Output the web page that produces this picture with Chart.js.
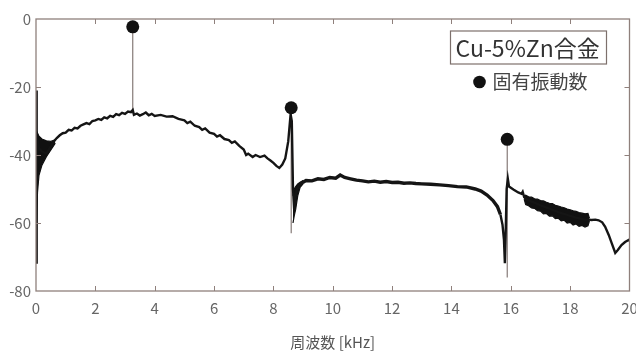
<!DOCTYPE html>
<html>
<head>
<meta charset="utf-8">
<script src="https://cdn.jsdelivr.net/npm/chart.js@4/dist/chart.umd.min.js"></script>
<style>
  html, body { margin: 0; padding: 0; background: #fff; }
  #wrap { width: 636px; height: 351px; position: relative; }
</style>
</head>
<body>
<div id="wrap"><canvas id="spectrumChart"></canvas></div>
<script>
// Spectrum trace (kHz, dB)
const freq = [0.00, 0.015, 0.03, 0.06, 0.1, 0.2, 0.35, 0.5, 0.6, 0.7, 0.8, 0.9, 1.0, 1.1, 1.2, 1.3, 1.4, 1.5,
  1.6, 1.7, 1.8, 1.9, 2.0, 2.1, 2.2, 2.3, 2.4, 2.5, 2.6, 2.7, 2.8, 2.9, 3.0, 3.1, 3.2, 3.26, 3.3, 3.4, 3.5,
  3.6, 3.7, 3.8, 3.9, 4.0, 4.2, 4.4, 4.6, 4.8, 5.0, 5.1, 5.2, 5.35, 5.5, 5.6, 5.7, 5.85, 6.0, 6.1, 6.2, 6.35,
  6.5, 6.6, 6.7, 6.85, 7.0, 7.08, 7.15, 7.3, 7.4, 7.55, 7.7, 7.8, 7.9, 8.0, 8.1, 8.2, 8.3, 8.4, 8.5, 8.58,
  8.62, 8.66, 8.7, 8.75, 8.8, 8.9, 9.0, 9.1, 9.3, 9.5, 9.7, 9.9, 10.1, 10.25, 10.4, 10.6, 10.8, 11.0, 11.2,
  11.4, 11.6, 11.8, 12.0, 12.2, 12.4, 12.6, 12.8, 13.0, 13.3, 13.6, 13.9, 14.2, 14.5, 14.8, 15.0, 15.2, 15.4,
  15.55, 15.65, 15.72, 15.77, 15.8, 15.83, 15.86, 15.9, 15.94, 16.1, 16.25, 16.36, 16.4, 16.45, 16.55, 16.8,
  17.0, 17.3, 17.6, 17.9, 18.2, 18.5, 18.62, 18.72, 18.85, 18.96, 19.08, 19.18, 19.3, 19.4, 19.52, 19.6, 19.73,
  19.85, 19.97, 20.0];
const amp = [-21, -72, -45, -36, -38, -39, -39.5, -37.5, -36.0, -35.0, -34.2, -33.6, -33.4, -32.6, -32.8, -32.0, -32.2, -31.4,
  -31.0, -30.6, -30.9, -30.0, -29.8, -29.4, -29.7, -28.9, -29.2, -28.5, -28.8, -28.0, -28.3, -27.6, -27.9, -27.2, -27.4, -26.8, -28.2, -27.8, -28.4,
  -28.0, -27.5, -28.3, -27.9, -28.5, -28.2, -28.7, -28.6, -29.4, -29.8, -30.6, -30.2, -31.4, -31.8, -32.6, -32.2, -33.4, -33.8, -34.6, -34.2, -35.3,
  -35.6, -36.4, -36.0, -37.3, -38.4, -40.0, -39.6, -40.6, -40.0, -40.6, -40.2, -41.0, -41.6, -42.3, -43.2, -43.8, -42.8, -41.0, -36.0, -28.0,
  -30, -50, -56, -52, -50, -48.6, -48, -47.5, -47.6, -47.0, -47.2, -46.6, -46.8, -45.9, -46.6, -47.0, -47.4, -47.6, -47.9,
  -47.7, -48.0, -47.8, -48.1, -48.0, -48.3, -48.2, -48.4, -48.5, -48.6, -48.8, -49.0, -49.3, -49.4, -50.0, -50.6, -51.8, -53.4,
  -55.2, -57.5, -60.5, -65, -71.8, -62, -50, -47, -49.3, -50.2, -51.0, -51.4, -50.8, -52.4, -53.2, -54.0,
  -54.8, -55.8, -56.8, -57.6, -58.4, -59.0, -59.0, -59.1, -59.0, -59.2, -59.8, -61.1, -63.5, -65.9, -68.8, -68.0, -66.5,
  -65.6, -65.0, -65.3];

// Noisy bands (upper / lower envelope)
const band1X = [0.02, 0.05, 0.1, 0.2, 0.35, 0.5, 0.65];
const band1Hi = [-33.0, -33.5, -34.5, -35.3, -35.8, -36.0, -35.5];
const band1Lo = [-60, -51, -46, -43, -40.5, -38.5, -36.5];

const band2X = [8.66, 8.7, 8.75, 8.82, 8.9, 9.0];
const band2Hi = [-52, -50, -49.3, -48.5, -48, -47.5];
const band2Lo = [-60, -58, -56, -52, -49.5, -48.5];

const band3X = [16.45, 16.5, 16.6, 16.7, 16.8, 16.9, 17.0, 17.1, 17.2, 17.3, 17.4, 17.5, 17.6, 17.7, 17.8,
  17.9, 18.0, 18.1, 18.2, 18.3, 18.4, 18.5, 18.6, 18.65];
const band3Hi = [-52.0, -51.8, -52.3, -52.4, -52.9, -53.0, -53.4, -53.5, -53.9, -54.2, -54.3, -54.8, -55.0, -55.3, -55.5,
  -55.9, -56.1, -56.4, -56.6, -56.9, -57.1, -57.3, -57.2, -58.6];
const band3Lo = [-53.0, -54.6, -54.9, -55.6, -55.7, -56.4, -56.5, -57.3, -57.2, -58.0, -57.9, -58.7, -58.6, -59.4, -59.2,
  -60.0, -59.8, -60.6, -60.3, -61.0, -60.7, -61.2, -60.8, -59.4];

// Natural frequencies (固有振動数) and the thin spike under each
const peakFreq = [3.26, 8.6, 15.88];
const peakAmp = [-2.3, -26.1, -35.4];
const spikeBottom = [-27.5, -63, -76];

const toPts = (xs, ys) => xs.map((x, i) => ({ x: x, y: ys[i] }));

const spikePts = [];
peakFreq.forEach((f, i) => {
    spikePts.push({ x: f, y: spikeBottom[i] }, { x: f, y: peakAmp[i] }, { x: f, y: null });
});

const AXIS = '#8f807c';
Chart.defaults.font.family = "'Noto Sans CJK JP', 'Noto Sans', sans-serif";

function bandSets(xs, hi, lo) {
    return [
        { data: toPts(xs, hi), borderColor: '#111', borderWidth: 1.2, pointRadius: 0, fill: '+1', backgroundColor: '#111', order: 2 },
        { data: toPts(xs, lo), borderColor: '#111', borderWidth: 1.2, pointRadius: 0, fill: false, order: 2 }
    ];
}

// frame, inward ticks and the legend box
const framePlugin = {
    id: 'frame',
    afterDraw(chart) {
        const ctx = chart.ctx;
        const a = chart.chartArea;
        const xs = chart.scales.x, ys = chart.scales.y;
        ctx.save();
        ctx.strokeStyle = AXIS;
        ctx.lineWidth = 1.3;
        ctx.strokeRect(a.left, a.top, a.right - a.left, a.bottom - a.top);
        ctx.lineWidth = 1;
        ctx.beginPath();
        for (let v = 2; v < 20; v += 2) {
            const px = Math.round(xs.getPixelForValue(v)) + 0.5;
            ctx.moveTo(px, a.bottom); ctx.lineTo(px, a.bottom - 5);
            ctx.moveTo(px, a.top); ctx.lineTo(px, a.top + 5);
        }
        for (let v = -60; v < 0; v += 20) {
            const py = Math.round(ys.getPixelForValue(v)) + 0.5;
            ctx.moveTo(a.left, py); ctx.lineTo(a.left + 5, py);
            ctx.moveTo(a.right, py); ctx.lineTo(a.right - 5, py);
        }
        ctx.stroke();

        // legend
        const bx = a.right - 179, by = a.top + 12;
        ctx.fillStyle = '#fff';
        ctx.fillRect(bx, by, 156, 33);
        ctx.strokeStyle = '#7d706c';
        ctx.lineWidth = 1.2;
        ctx.strokeRect(bx, by, 156, 33);
        ctx.fillStyle = '#333';
        ctx.font = "23px 'Noto Sans CJK JP'";
        ctx.textBaseline = 'middle';
        ctx.textAlign = 'left';
        ctx.fillText('Cu-5%Zn合金', bx + 5, by + 17);
        ctx.fillStyle = '#111';
        ctx.beginPath();
        ctx.arc(bx + 29, by + 51, 6.3, 0, Math.PI * 2);
        ctx.fill();
        ctx.fillStyle = '#444';
        ctx.font = "19px 'Noto Sans CJK JP'";
        ctx.fillText('固有振動数', bx + 42, by + 51);
        ctx.restore();
    }
};

const ctx = document.getElementById('spectrumChart').getContext('2d');
new Chart(ctx, {
    type: 'line',
    data: {
        datasets: [
            { data: toPts(peakFreq, peakAmp), showLine: false, pointRadius: 6.5, pointBackgroundColor: '#111', pointBorderWidth: 0, order: 0 },
            {
                data: toPts(freq, amp), borderColor: '#151515', borderWidth: 2.4, pointRadius: 0, tension: 0, order: 1,
                segment: { borderWidth: c => (c.p0.parsed.x > 8.8 && c.p0.parsed.x < 15.6) ? 3.4 : 2.4 }
            },
            ...bandSets(band1X, band1Hi, band1Lo),
            ...bandSets(band2X, band2Hi, band2Lo),
            ...bandSets(band3X, band3Hi, band3Lo),
            { data: spikePts, borderColor: '#857a77', borderWidth: 1.2, pointRadius: 0, spanGaps: false, order: 3 }
        ]
    },
    options: {
        responsive: true,
        maintainAspectRatio: false,
        animation: false,
        layout: { padding: { top: 19, right: 5, left: 0, bottom: 0 } },
        plugins: { legend: { display: false }, tooltip: { enabled: false } },
        scales: {
            x: {
                type: 'linear',
                min: 0, max: 20,
                grid: { display: false, drawTicks: false },
                border: { display: false },
                ticks: { stepSize: 2, color: '#666', font: { size: 15 }, padding: 8, maxRotation: 0 },
                title: { display: true, text: '周波数 [kHz]', color: '#555', font: { size: 15 }, padding: { top: 0, bottom: 0 } },
                afterFit(scale) {
                    scale.height = 60;
                    scale.paddingLeft = 0;
                    scale.paddingRight = 0;
                }
            },
            y: {
                min: -80, max: 0,
                grid: { display: false, drawTicks: false },
                border: { display: false },
                ticks: { stepSize: 20, color: '#666', font: { size: 15 }, padding: 5 },
                afterFit(scale) { scale.width = 36; }
            }
        }
    },
    plugins: [framePlugin]
});
</script>
</body>
</html>
